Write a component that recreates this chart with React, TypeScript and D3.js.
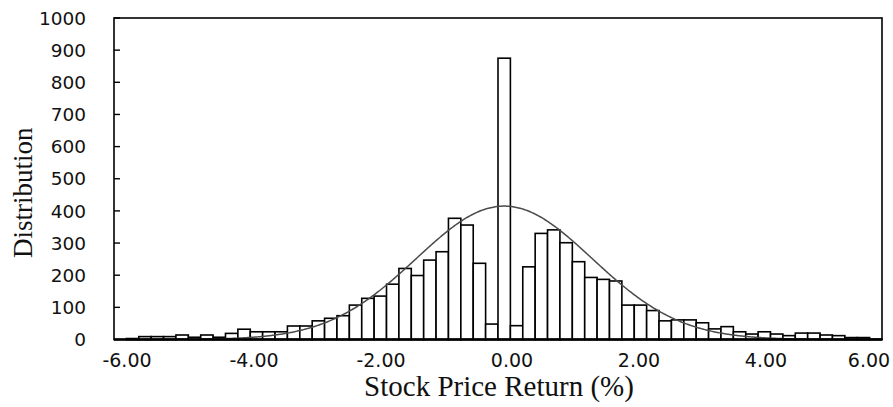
import React from "react";
import * as d3 from "d3";

// Bin centers (Stock Price Return %, bin width 0.2)
const binCenters: number[] = [
  -6.0, -5.8, -5.6, -5.4, -5.2, -5.0, -4.8, -4.6, -4.4, -4.2,
  -4.0, -3.8, -3.6, -3.4, -3.2, -3.0, -2.8, -2.6, -2.4, -2.2,
  -2.0, -1.8, -1.6, -1.4, -1.2, -1.0, -0.8, -0.6, -0.4, -0.2,
  0.0, 0.2, 0.4, 0.6, 0.8, 1.0, 1.2, 1.4, 1.6, 1.8,
  2.0, 2.2, 2.4, 2.6, 2.8, 3.0, 3.2, 3.4, 3.6, 3.8,
  4.0, 4.2, 4.4, 4.6, 4.8, 5.0, 5.2, 5.4, 5.6, 5.8, 6.0,
];
// Frequencies per bin
const counts: number[] = [
  3, 9, 9, 9, 14, 7, 14, 7, 19, 32,
  24, 24, 24, 42, 42, 58, 66, 74, 107, 128,
  135, 172, 221, 199, 247, 273, 377, 356, 237, 48,
  875, 43, 226, 330, 341, 301, 242, 193, 187, 182,
  107, 107, 90, 58, 61, 61, 52, 33, 40, 24,
  17, 24, 17, 12, 20, 20, 14, 12, 6, 6, 1,
];
const binWidth = 0.2;

// Fitted normal curve parameters
const fitMean = 0.0;
const fitSd = 1.42;
const fitPeak = 415;

const yTicks: number[] = [0, 100, 200, 300, 400, 500, 600, 700, 800, 900, 1000];
const xTicks: number[] = [-6, -4, -2, 0, 2, 4, 6];

const W = 893;
const H = 407;
const left = 114;
const right = 882;
const top = 18;
const bottom = 339.5;

export default function App() {
  const x = d3.scaleLinear().domain([-6.3, 6.1]).range([left, right]);
  const y = d3.scaleLinear().domain([0, 1000]).range([bottom, top]);
  // category-axis label positions (as laid out in the source chart)
  const xLab = d3.scaleLinear().domain([-6, 6]).range([131, 893]);

  const curvePts: [number, number][] = d3
    .range(-6.1, 6.1001, 0.02)
    .map((v) => [v, fitPeak * Math.exp(-((v - fitMean) ** 2) / (2 * fitSd * fitSd))]);
  const line = d3
    .line<[number, number]>()
    .x((d) => x(d[0]))
    .y((d) => y(d[1]))
    .curve(d3.curveBasis);

  const sans = "'DejaVu Sans', Verdana, sans-serif";
  const serif = "'Liberation Serif', 'Times New Roman', serif";

  return (
    <svg
      width={W}
      height={H}
      style={{ position: "absolute", left: 0, top: 0, background: "#fff" }}
    >
      <rect x={0} y={0} width={W} height={H} fill="#fff" />
      {/* bars */}
      {binCenters.map((c, i) => (
        <rect
          key={i}
          x={x(c - binWidth / 2)}
          y={y(counts[i])}
          width={x(c + binWidth / 2) - x(c - binWidth / 2)}
          height={bottom - y(counts[i])}
          fill="#fff"
          stroke="#000"
          strokeWidth={1.6}
        />
      ))}
      {/* fitted curve */}
      <path d={line(curvePts) || ""} fill="none" stroke="#4a4a4a" strokeWidth={1.5} />
      {/* frame */}
      <rect
        x={left}
        y={top}
        width={right - left}
        height={bottom - top}
        fill="none"
        stroke="#000"
        strokeWidth={1.6}
      />
      <line x1={left} x2={right} y1={bottom} y2={bottom} stroke="#000" strokeWidth={2.4} />
      {/* y ticks */}
      {yTicks.map((t) => (
        <g key={t}>
          <line x1={left} x2={left + 6} y1={y(t)} y2={y(t)} stroke="#000" strokeWidth={1.4} />
          <text
            x={86}
            y={y(t)}
            dy="0.36em"
            textAnchor="end"
            fontFamily={sans}
            fontSize={18.5}
            fill="#111"
          >
            {t}
          </text>
        </g>
      ))}
      {/* x tick labels */}
      {xTicks.map((t) => {
        const px = Math.min(xLab(t), 869);
        return (
          <text
            key={t}
            x={t < 0 ? px - 4 : px}
            y={367}
            textAnchor="middle"
            fontFamily={sans}
            fontSize={19}
            fill="#111"
          >
            {t.toFixed(2)}
          </text>
        );
      })}
      {/* axis titles */}
      <text
        x={499}
        y={396}
        textAnchor="middle"
        fontFamily={serif}
        fontSize={29}
        fill="#111"
      >
        Stock Price Return (%)
      </text>
      <text
        transform={`translate(32,${(top + bottom) / 2 + 14}) rotate(-90)`}
        textAnchor="middle"
        fontFamily={serif}
        fontSize={27}
        fill="#111"
      >
        Distribution
      </text>
    </svg>
  );
}
